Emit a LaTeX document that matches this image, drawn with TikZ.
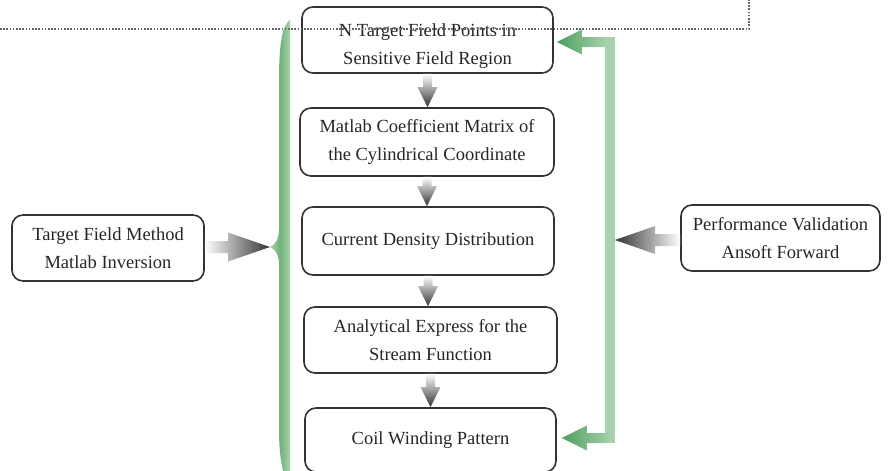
\documentclass[tikz,border=0pt]{standalone}
\usepackage{fontspec}
\setmainfont{Liberation Serif}
\usetikzlibrary{calc}
\definecolor{gline}{RGB}{168,210,172}
\definecolor{gmid}{RGB}{112,178,122}
\definecolor{ghead}{RGB}{78,158,94}
\tikzset{
  box/.style={draw=black!80, line width=1.6pt, rounded corners=11pt, align=center,
    inner sep=0pt, text=black!85, font=\fontsize{18.5}{28}\selectfont},
}
\begin{document}
\begin{tikzpicture}[x=1pt,y=-1pt]
  \useasboundingbox (0,0) rectangle (889,471);
  % main column
  \node[box, minimum width=251, minimum height=66] (b1) at (427.5,40)
    {\raisebox{-5pt}[\height][\depth]{\begin{tabular}{@{}c@{}}N Target Field Points in\\Sensitive Field Region\end{tabular}}};
  \node[box, minimum width=254, minimum height=68] (b2) at (427,142) {Matlab Coefficient Matrix of\\the Cylindrical Coordinate};
  \node[box, minimum width=252, minimum height=68] (b3) at (428,241) {Current Density Distribution};
  \node[box, minimum width=253, minimum height=66] (b4) at (430.5,340) {Analytical Express for the\\Stream Function};
  \node[box, minimum width=251, minimum height=64] (b5) at (430.5,440) {Coil Winding Pattern};
  % side boxes
  \node[box, minimum width=192, minimum height=66] (inv) at (108,248) {Target Field Method\\Matlab Inversion};
  \node[box, minimum width=199, minimum height=66] (fwd) at (780.5,238) {Performance Validation\\Ansoft Forward};
  \coordinate (tip) at (270,247);
  \coordinate (vr) at (615,240);
  \coordinate (gt) at (610,42);
  \coordinate (gb) at (610,438);

  % shaded arrows down the column
  \foreach \a/\b in {b1/b2,b2/b3,b3/b4,b4/b5}
    \shade[top color=white, bottom color=black!80] let \p1=(\a.south), \p2=(\b.north) in
      ({\x1-4.5pt},\y1) -- ({\x1+4.5pt},\y1) -- ({\x1+4.5pt},{\y2+20pt}) -- ({\x1+10pt},{\y2+20pt})
      -- ({\x1},\y2) -- ({\x1-10pt},{\y2+20pt}) -- ({\x1-4.5pt},{\y2+20pt}) -- cycle;

  % brace on the left of the column
  \shade[left color=gline, right color=gline, middle color=gmid]
    (290,20) .. controls (282,25) and (279,45) .. (279,80) -- (279,228)
    .. controls (279,240) and (275,245) .. (tip) .. controls (275,249) and (279,254) .. (279,266)
    -- (279,430) .. controls (279,450) and (281,462) .. (283,471) -- (290,471) -- cycle;

  % inversion and forward arrows
  \shade[left color=white, right color=black!80] let \p1=(inv.east), \p2=(tip) in
    (\x1,{\y2+6pt}) -- ({\x2-42pt},{\y2+6pt}) -- ({\x2-42pt},{\y2+14.5pt}) -- (\p2)
    -- ({\x2-42pt},{\y2-14.5pt}) -- ({\x2-42pt},{\y2-6pt}) -- (\x1,{\y2-6pt}) -- cycle;
  \shade[left color=black!80, right color=white] let \p1=(fwd.west), \p2=(vr) in
    (\x1,{\y2+6pt}) -- ({\x2+40pt},{\y2+6pt}) -- ({\x2+40pt},{\y2+14pt}) -- (\p2)
    -- ({\x2+40pt},{\y2-14pt}) -- ({\x2+40pt},{\y2-6pt}) -- (\x1,{\y2-6pt}) -- cycle;

  % feedback loop back into the column
  \draw[gline, line width=10pt, line join=miter] ($(b1.east |- gt)+(27,0)$) -- (gt) -- (gb) -- ($(b5.east |- gb)+(27,0)$);
  \foreach \bx/\cn/\off in {b1/gt/3, b5/gb/5}
    \shade[left color=ghead, right color=gline] let \p1=($(\bx.east |- \cn)+(\off,0)$) in
      (\p1) -- ({\x1+25pt},{\y1+12.5pt}) -- ({\x1+25pt},{\y1+5pt}) -- ({\x1+50pt},{\y1+5pt})
      -- ({\x1+50pt},{\y1-5pt}) -- ({\x1+25pt},{\y1-5pt}) -- ({\x1+25pt},{\y1-12.5pt}) -- cycle;

  % dotted border on top
  \draw[black!60, line width=1.6pt, dash pattern=on 1.6pt off 1.6pt] (0,29) -- (749,29) -- (749,0);
\end{tikzpicture}
\end{document}
